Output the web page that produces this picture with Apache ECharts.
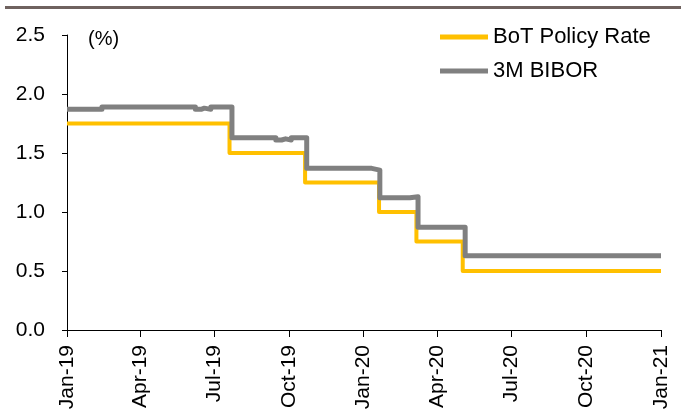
<!DOCTYPE html>
<html>
<head>
<meta charset="utf-8">
<script src="https://cdn.jsdelivr.net/npm/echarts@6/dist/echarts.min.js"></script>
<style>
html,body{margin:0;padding:0;background:#fff;}
#chart{width:681px;height:420px;}
</style>
</head>
<body>
<div id="chart"></div>
<script>
// ---- data ----
const tickDates = ['2019-01-01','2019-04-01','2019-07-01','2019-10-01','2020-01-01','2020-04-01','2020-07-01','2020-10-01','2021-01-01'];
const tickLabels = ['Jan-19','Apr-19','Jul-19','Oct-19','Jan-20','Apr-20','Jul-20','Oct-20','Jan-21'];

const policyDates = ['2019-01-01','2019-07-20','2019-10-21','2020-01-20','2020-03-06','2020-05-02','2021-01-01'];
const policyRate  = [1.75, 1.50, 1.25, 1.00, 0.75, 0.50, 0.50];

const biborDates = ['2019-01-01','2019-02-13','2019-06-08','2019-06-15','2019-06-19','2019-06-27','2019-07-23',
                    '2019-09-15','2019-09-22','2019-09-27','2019-10-04','2019-10-23','2020-01-11','2020-01-21',
                    '2020-02-27','2020-03-08','2020-05-05','2021-01-01'];
const biborRate  = [1.87, 1.89, 1.87, 1.88, 1.87, 1.89, 1.63,
                    1.61, 1.62, 1.61, 1.63, 1.37, 1.355, 1.12,
                    1.13, 0.87, 0.63, 0.63];

const yTicks = [0, 0.5, 1.0, 1.5, 2.0, 2.5];

// ---- helpers: dates -> day number since first tick (linear date scale) ----
function utc(s){ const p = s.split('-').map(Number); return Date.UTC(p[0], p[1]-1, p[2]); }
const T0 = utc(tickDates[0]);
function day(s){ return Math.round((utc(s) - T0) / 86400000); }
const tickDays = tickDates.map(day);
function pairs(ds, vs){ return ds.map((d,i)=>[day(d), vs[i]]); }

const FONT = 'Liberation Sans, Arial, sans-serif';
const chart = echarts.init(document.getElementById('chart'), null, {renderer:'canvas'});

chart.setOption({
  animation: false,
  backgroundColor: '#fff',
  grid: {left: 67, right: 20, top: 35, bottom: 90, containLabel: false},
  legend: {
    orient: 'vertical',
    left: 435, top: 21,
    itemWidth: 48, itemHeight: 5, itemGap: 12,
    icon: 'rect',
    textStyle: {fontFamily: FONT, fontSize: 22, color: '#000'},
    data: ['BoT Policy Rate','3M BIBOR']
  },
  graphic: [
    {type:'rect', shape:{x:5, y:6, width:676, height:3}, style:{fill:'#6f625f'}},
    {type:'text', left: 88, top: 29, style:{text:'(%)', font:'20px '+FONT, fill:'#000'}}
  ],
  xAxis: {
    type: 'value',
    min: tickDays[0], max: tickDays[tickDays.length-1],
    axisLine: {show: true, onZero: false, lineStyle:{color:'#000', width:1}},
    axisTick: {show: true, length: 7, lineStyle:{color:'#000'}, customValues: tickDays},
    splitLine: {show:false},
    axisLabel: {
      customValues: tickDays,
      rotate: 90, margin: 15,
      fontFamily: FONT, fontSize: 21, color:'#000',
      formatter: function(v){ const i = tickDays.indexOf(Math.round(v)); return i>=0 ? tickLabels[i] : ''; }
    }
  },
  yAxis: {
    type: 'value',
    min: yTicks[0], max: yTicks[yTicks.length-1], interval: 0.5,
    axisLine: {show: true, lineStyle:{color:'#000', width:1}},
    axisTick: {show: true, length: 5, lineStyle:{color:'#000'}},
    splitLine: {show:false},
    axisLabel: {fontFamily: FONT, fontSize: 21, color:'#000', margin: 22,
      formatter: v => v.toFixed(1)}
  },
  series: [
    {name:'BoT Policy Rate', type:'line', step:'end', showSymbol:false, symbol:'none',
     data: pairs(policyDates, policyRate), color:'#FFC000',
     lineStyle:{color:'#FFC000', width:4, join:'round'}},
    {name:'3M BIBOR', type:'line', step:'end', showSymbol:false, symbol:'none',
     data: pairs(biborDates, biborRate), color:'#808080',
     lineStyle:{color:'#808080', width:5, join:'round'}}
  ]
});
</script>
</body>
</html>
